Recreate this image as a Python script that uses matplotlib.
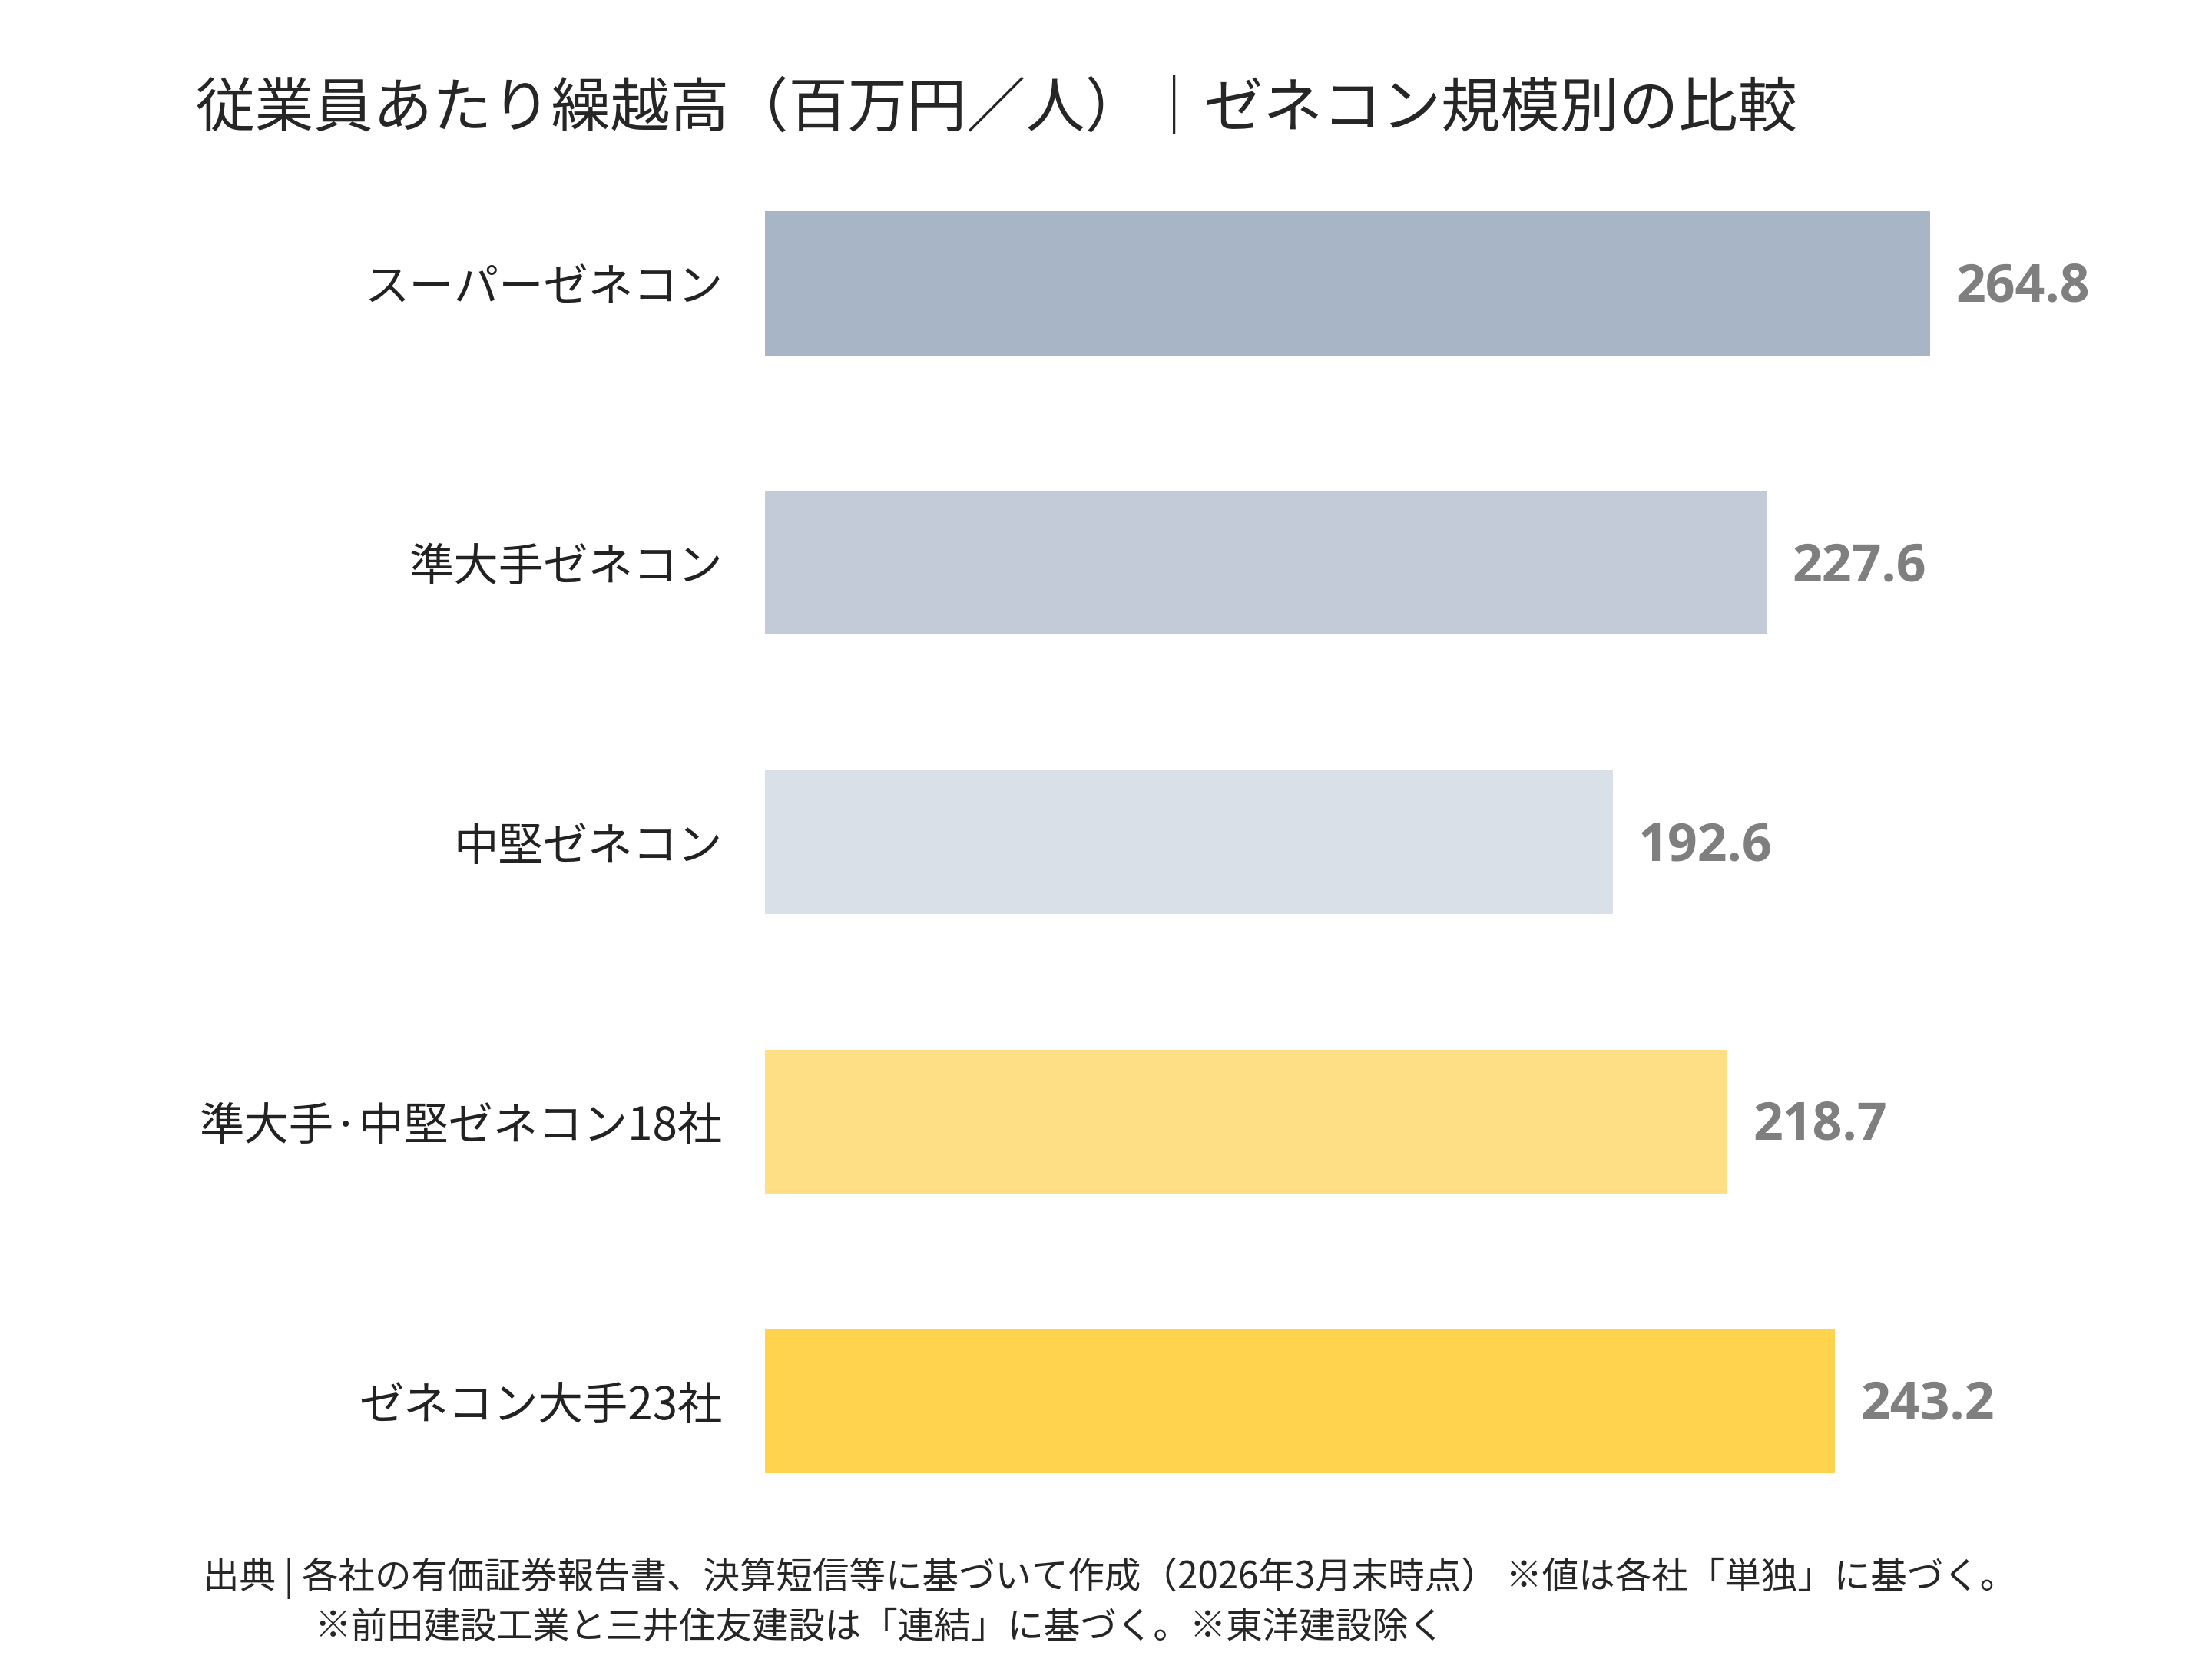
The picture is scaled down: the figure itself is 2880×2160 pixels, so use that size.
import matplotlib.pyplot as plt
import numpy as np

plt.rcParams["font.family"] = ["Noto Sans CJK JP", "DejaVu Sans"]

categories = [
    "スーパーゼネコン",
    "準大手ゼネコン",
    "中堅ゼネコン",
    "準大手·中堅ゼネコン18社",
    "ゼネコン大手23社",
]
values = [264.8, 227.6, 192.6, 218.7, 243.2]
bar_colors = ["#A8B5C6", "#C2CBD7", "#DAE0E8", "#FFDF85", "#FFD34E"]

title = "従業員あたり繰越高（百万円／人）｜ゼネコン規模別の比較"
note_1 = "出典 | 各社の有価証券報告書、決算短信等に基づいて作成（2026年3月末時点） ※値は各社「単独」に基づく。"
note_2 = "※前田建設工業と三井住友建設は「連結」に基づく。※東洋建設除く"

fig = plt.figure(figsize=(14.4, 10.8), dpi=200)
ax = fig.add_axes([0.346, 0.0713, 0.5966, 0.8421])

y = np.arange(len(categories))
bars = ax.barh(y, values, height=0.515, color=bar_colors)

for b, v in zip(bars, values):
    ax.annotate(
        f"{v:.1f}",
        xy=(b.get_width(), b.get_y() + b.get_height() / 2),
        xytext=(12, -2),
        textcoords="offset points",
        ha="left",
        va="center",
        fontsize=24.5,
        fontweight="bold",
        family=["Open Sans", "DejaVu Sans"],
        color="#7F7F7F",
    )

ax.set_xlim(0, 300)
ax.set_ylim(len(categories) - 0.5, -0.5)
ax.set_yticks(y)
ax.set_yticklabels(categories, fontsize=21, color="#222222")
ax.tick_params(axis="y", length=0, pad=20)
ax.set_xticks([])
for s in ax.spines.values():
    s.set_visible(False)

fig.text(0.0885, 0.934, title, fontsize=27.8, color="#262626", ha="left", va="center")
fig.text(0.0917, 0.0486, note_1, fontsize=17.1, color="#262626", ha="left", va="center")
fig.text(0.142, 0.019, note_2, fontsize=17.1, color="#262626", ha="left", va="center")

fig.savefig("out.png", dpi=200, facecolor="white")
